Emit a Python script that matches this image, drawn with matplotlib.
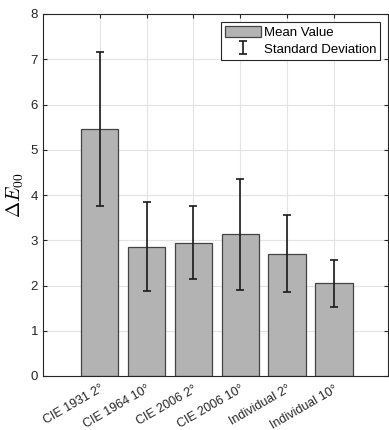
import matplotlib
matplotlib.use("Agg")
import matplotlib.pyplot as plt
import numpy as np

categories = ["CIE 1931 2°", "CIE 1964 10°", "CIE 2006 2°", "CIE 2006 10°", "Individual 2°", "Individual 10°"]
mean_values = [5.45, 2.86, 2.95, 3.13, 2.70, 2.05]
std_values = [1.70, 0.98, 0.80, 1.22, 0.85, 0.52]

plt.rcParams['font.family'] = ['Liberation Sans', 'DejaVu Sans']
plt.rcParams['mathtext.fontset'] = 'cm'

fig = plt.figure(figsize=(3.89, 4.30), dpi=100)
ax = fig.add_axes([43/389, 1-376/430, 345/389, 362/430])

x = np.arange(1, len(categories) + 1)
ax.bar(x, mean_values, width=0.8, color='#b3b3b3', edgecolor='#444444', linewidth=0.9,
       label='Mean Value', zorder=2)
ax.errorbar(x, mean_values, yerr=std_values, fmt='none', ecolor='#1a1a1a', elinewidth=1.2,
            capsize=3, capthick=1.2, label='Standard Deviation', zorder=3)

ax.set_xlim(-0.21, 7.15)
ax.set_ylim(0, 8)
ax.set_yticks(range(0, 9))
ax.set_xticks(x)
ax.set_xticklabels(categories, rotation=30, ha='right', rotation_mode='anchor', fontsize=9)
ax.tick_params(axis='y', labelsize=9.5, colors='#262626', direction='in', length=3,
               right=True)
ax.tick_params(axis='x', colors='#262626', direction='in', length=3, pad=5, top=True)
ax.grid(True, color='#e3e3e3', linewidth=0.8, zorder=0)
ax.set_axisbelow(True)
for s in ax.spines.values():
    s.set_color('#262626')
    s.set_linewidth(0.8)

ax.set_ylabel(r'$\Delta E_{00}$', fontsize=14, labelpad=3)

leg = ax.legend(loc='upper right', fontsize=9.5, fancybox=False, framealpha=1,
                edgecolor='#262626', borderpad=0.3, handlelength=2.7, handleheight=0.9,
                handletextpad=0.2, labelspacing=0.3, borderaxespad=0.6)
leg.get_frame().set_linewidth(0.8)

fig.savefig('out.png', dpi=100)
